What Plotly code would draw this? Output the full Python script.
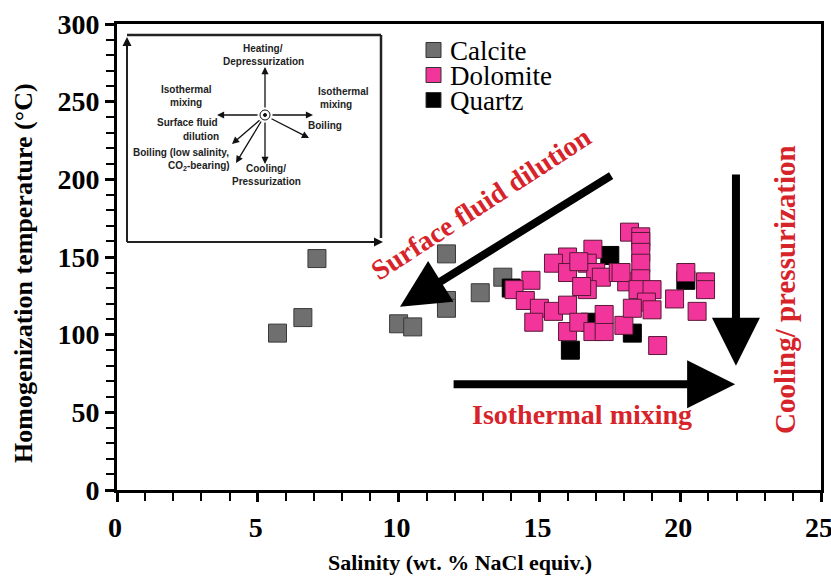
import plotly.graph_objects as go

# ---------------- data ----------------
calcite_x = [5.7, 6.6, 7.1, 10.0, 10.5, 11.7, 11.7, 11.7, 12.9, 13.7]
calcite_y = [101, 111, 149, 107, 105, 152, 122, 117, 127, 137]

quartz_x = [14.0, 16.1, 16.8, 17.5, 18.3, 20.2]
quartz_y = [130, 90, 108, 151, 101, 135]

dolomite_x = [18.2, 18.6, 18.6, 18.6, 18.6, 16.9, 16.0, 15.5, 16.0, 16.7,
              17.0, 17.2, 17.8, 16.7, 14.7, 14.1, 14.5, 15.0, 15.5, 16.0,
              14.8, 16.0, 16.4, 16.9, 17.3, 17.3, 18.0, 18.1, 18.6, 17.9,
              18.5, 19.0, 18.8, 18.3, 19.0, 19.2, 20.2, 19.8, 20.6, 20.9,
              20.9, 16.5, 16.4]
dolomite_y = [166, 163, 160, 153, 146, 155, 150, 146, 140, 146,
              140, 137, 140, 129, 135, 129, 122, 117, 115, 119,
              108, 102, 108, 102, 102, 113, 106, 134, 136, 140,
              129, 129, 121, 117, 116, 93, 140, 123, 115, 134,
              129, 131, 147]

x_ticks = [0, 5, 10, 15, 20, 25]
y_ticks = [0, 50, 100, 150, 200, 250, 300]

series_names = ["Calcite", "Dolomite", "Quartz"]
series_colors = ["#6F6F6F", "#F2359A", "#000000"]
series_edges = ["#3a3a3a", "#5a1838", "#000000"]

# ---------------- layout helpers ----------------
W, H = 831, 580
L, R, T, B = 117, 10, 24, 90
PW, PH = W - L - R, H - T - B


def px(x):
    return (x - L) / PW


def py(y):
    return (H - B - y) / PH


SERIF = "Liberation Serif"
SANS = "Liberation Sans"
RED = "#D7232A"

fig = go.Figure()

marker_common = dict(symbol="square", size=18)
fig.add_trace(go.Scatter(x=calcite_x, y=calcite_y, mode="markers", name=series_names[0],
                         marker=dict(color=series_colors[0], line=dict(color=series_edges[0], width=1),
                                     **marker_common)))
fig.add_trace(go.Scatter(x=quartz_x, y=quartz_y, mode="markers", name=series_names[2],
                         marker=dict(color=series_colors[2], line=dict(color=series_edges[2], width=1),
                                     **marker_common)))
fig.add_trace(go.Scatter(x=dolomite_x, y=dolomite_y, mode="markers", name=series_names[1],
                         marker=dict(color=series_colors[1], line=dict(color=series_edges[1], width=1),
                                     **marker_common)))

annotations = []
shapes = []


def label(text, x, y, size, color="#000", family=SERIF, angle=0, xanchor="center"):
    annotations.append(dict(x=px(x), y=py(y), xref="paper", yref="paper", text=text, showarrow=False,
                            xanchor=xanchor, yanchor="middle", textangle=angle,
                            font=dict(family=family, size=size, color=color)))


# ---- legend (compact, drawn manually) ----
for i, (nm, col, edge) in enumerate(zip(series_names, series_colors, series_edges)):
    yc = 50 + 25 * i
    shapes.append(dict(type="rect", xref="paper", yref="paper", x0=px(426), x1=px(441), y0=py(yc + 7.5),
                       y1=py(yc - 7.5), fillcolor=col, line=dict(color="#333", width=1)))
    label(nm, 448, yc + 1, 27, xanchor="left")

# ---- big black arrows ----
big_arrows = [
    # tip (x, y), tail (x, y)
    ((10.05, 118), (17.6, 203)),
    ((21.98, 80), (21.98, 204)),
    ((21.95, 68), (11.9, 68)),
]
for (tx, ty), (sx, sy) in big_arrows:
    annotations.append(dict(x=tx, y=ty, ax=sx, ay=sy, xref="x", yref="y", axref="x", ayref="y",
                            text="", showarrow=True, arrowhead=2, arrowsize=1.2, arrowwidth=8,
                            arrowcolor="#000000", standoff=0, startstandoff=0))

# ---- red annotations ----
label("<b>Surface fluid dilution</b>", 481, 203, 28, RED, angle=-33)
label("<b>Isothermal mixing</b>", 582, 414, 28, RED)
label("<b>Cooling/ pressurization</b>", 785, 290, 29, RED, angle=-90)

# ---- axis titles ----
label("<b>Homogenization temperature (°C)</b>", 23, 273, 26, angle=-90)
label("<b>Salinity (wt. % NaCl equiv.)</b>", 460, 562, 22)

# ---- inset diagram ----
ix0, iy0, ix1, iy1 = 127, 35, 381, 242
shapes.append(dict(type="line", xref="paper", yref="paper", x0=px(ix0), y0=py(iy1), x1=px(ix0), y1=py(iy0 + 4),
                   line=dict(color="#222", width=2)))
shapes.append(dict(type="line", xref="paper", yref="paper", x0=px(ix0), y0=py(iy1), x1=px(ix1 - 4), y1=py(iy1),
                   line=dict(color="#222", width=2)))
shapes.append(dict(type="line", xref="paper", yref="paper", x0=px(ix0), y0=py(iy0), x1=px(ix1), y1=py(iy0),
                   line=dict(color="#222", width=2.5)))
shapes.append(dict(type="line", xref="paper", yref="paper", x0=px(ix1), y0=py(iy0), x1=px(ix1), y1=py(iy1 - 4),
                   line=dict(color="#222", width=2.5)))
annotations.append(dict(x=px(ix0), y=py(iy0 + 2), xref="paper", yref="paper", ax=0, ay=14, text="",
                        showarrow=True, arrowhead=2, arrowsize=1.2, arrowwidth=1.5, arrowcolor="#111"))
annotations.append(dict(x=px(ix1 + 2), y=py(iy1), xref="paper", yref="paper", ax=-14, ay=0, text="",
                        showarrow=True, arrowhead=2, arrowsize=1.2, arrowwidth=1.5, arrowcolor="#111"))

cx, cy = 265, 115
shapes.append(dict(type="circle", xref="paper", yref="paper", x0=px(cx - 5), x1=px(cx + 5), y0=py(cy + 5),
                   y1=py(cy - 5), line=dict(color="#111", width=1)))
shapes.append(dict(type="circle", xref="paper", yref="paper", x0=px(cx - 1.5), x1=px(cx + 1.5), y0=py(cy + 1.5),
                   y1=py(cy - 1.5), line=dict(color="#111", width=1), fillcolor="#111"))

inset_arrows = [
    ((265, 67), (265, 109)),
    ((217, 115), (259, 115)),
    ((313, 115), (271, 115)),
    ((309, 138), (270, 118)),
    ((265, 164), (265, 121)),
    ((232, 144), (261, 119)),
    ((236, 163), (262, 120)),
]
for (tx, ty), (sx, sy) in inset_arrows:
    annotations.append(dict(x=px(tx), y=py(ty), xref="paper", yref="paper", ax=sx - tx, ay=sy - ty, text="",
                            showarrow=True, arrowhead=2, arrowsize=1.1, arrowwidth=1.3, arrowcolor="#111",
                            standoff=0))

inset_texts = [
    ("Heating/", 263, 49),
    ("Depressurization", 263, 61),
    ("Isothermal", 186, 90),
    ("mixing", 186, 103),
    ("Isothermal", 343, 91),
    ("mixing", 336, 104),
    ("Boiling", 325, 125),
    ("Surface fluid", 187, 123),
    ("dilution", 201, 136),
    ("Boiling (low salinity,", 181, 152),
    ("CO<sub>2</sub>-bearing)", 199, 166),
    ("Cooling/", 266, 168),
    ("Pressurization", 266, 181),
]
for txt, tx, ty in inset_texts:
    label("<b>" + txt + "</b>", tx, ty, 10, "#222", family=SANS)

axis_font = dict(family=SERIF, size=28, color="#000", weight="bold")

fig.update_layout(
    width=W, height=H,
    margin=dict(l=L, r=R, t=T, b=B, autoexpand=False),
    plot_bgcolor="white", paper_bgcolor="white",
    showlegend=False,
    annotations=annotations,
    shapes=shapes,
    xaxis=dict(range=[0, 25], tickvals=x_ticks, ticktext=[str(v) for v in x_ticks], automargin=False,
               showgrid=False, zeroline=False, showline=True, linecolor="#000", linewidth=3, mirror=True,
               ticks="outside", ticklen=9, tickwidth=2.5, tickcolor="#000", tickfont=axis_font,
               ticklabelstandoff=1, ticklabeloverflow="allow", ticklabelshift=-2,
               minor=dict(dtick=1, ticks="outside", ticklen=8, tickwidth=2, tickcolor="#000")),
    yaxis=dict(range=[0, 300], tickvals=y_ticks, ticktext=[str(v) for v in y_ticks], automargin=False,
               showgrid=False, zeroline=False, showline=True, linecolor="#000", linewidth=3, mirror=True,
               ticks="outside", ticklen=9, tickwidth=2.5, tickcolor="#000", tickfont=axis_font,
               ticklabeloverflow="allow",
               minor=dict(dtick=10, ticks="outside", ticklen=8, tickwidth=2, tickcolor="#000")),
)

fig.write_html("out.html")
